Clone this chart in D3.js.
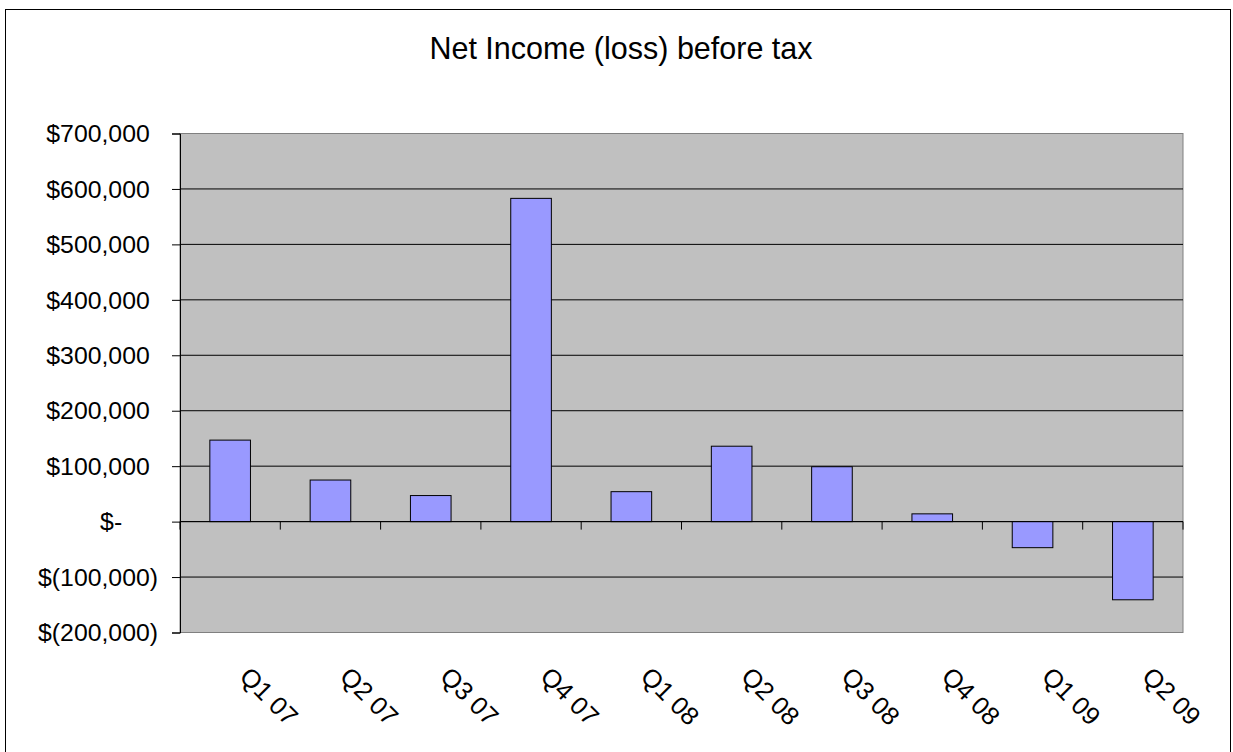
<!DOCTYPE html>
<html>
<head>
<meta charset="utf-8">
<script src="https://cdn.jsdelivr.net/npm/d3@7"></script>
<style>
  html, body { margin: 0; padding: 0; background: #fff; }
  svg { display: block; }
  text { font-family: Arial, "Liberation Sans", sans-serif; fill: #000; }
</style>
</head>
<body>
<svg id="chart" width="1233" height="752"></svg>
<script>
const categories = ["Q1 07","Q2 07","Q3 07","Q4 07","Q1 08","Q2 08","Q3 08","Q4 08","Q1 09","Q2 09"];
const netIncome = [147000, 75000, 47000, 583000, 54000, 136000, 99000, 14000, -47000, -141000];
const yTicks = [-200000, -100000, 0, 100000, 200000, 300000, 400000, 500000, 600000, 700000];
const title = "Net Income (loss) before tax";

const svg = d3.select("#chart");
const plot = { left: 180, right: 1183, top: 133.5, bottom: 632.5 };

// outer chart border
svg.append("rect")
  .attr("x", 5.5).attr("y", 9.5)
  .attr("width", 1225).attr("height", 760)
  .attr("fill", "#fff").attr("stroke", "#000").attr("stroke-width", 1);

// title
svg.append("text")
  .attr("x", 621).attr("y", 59)
  .attr("text-anchor", "middle")
  .attr("font-size", 30.5)
  .text(title);

const x = d3.scaleBand().domain(categories).range([plot.left, plot.right]).padding(0);
const y = d3.scaleLinear().domain([-200000, 700000]).range([plot.bottom, plot.top]);

// plot area background
svg.append("rect")
  .attr("x", plot.left).attr("y", plot.top)
  .attr("width", plot.right - plot.left).attr("height", plot.bottom - plot.top)
  .attr("fill", "#C0C0C0").attr("stroke", "#808080").attr("stroke-width", 1);

// gridlines (not at top/bottom border)
svg.append("g").selectAll("line")
  .data(yTicks.filter(v => v !== -200000 && v !== 700000))
  .join("line")
  .attr("x1", plot.left).attr("x2", plot.right)
  .attr("y1", d => y(d)).attr("y2", d => y(d))
  .attr("stroke", "#000").attr("stroke-width", 1);

// bars
const barFrac = 0.405;
svg.append("g").selectAll("rect")
  .data(categories.map((c, i) => ({ c, v: netIncome[i] })))
  .join("rect")
  .attr("x", d => x(d.c) + x.bandwidth() * (1 - barFrac) / 2)
  .attr("width", x.bandwidth() * barFrac)
  .attr("y", d => Math.min(y(d.v), y(0)))
  .attr("height", d => Math.abs(y(d.v) - y(0)))
  .attr("fill", "#9999FF").attr("stroke", "#000").attr("stroke-width", 1);

// y axis
const yAxis = d3.axisLeft(y).tickValues(yTicks).tickSize(8).tickFormat("");
const yg = svg.append("g").attr("transform", `translate(${plot.left},0)`).call(yAxis);
yg.select(".domain").attr("stroke", "#000");
yg.selectAll(".tick line").attr("stroke", "#000");

const fmt = d3.format(",");
const labG = svg.append("g");
yTicks.forEach(v => {
  const t = labG.append("text")
    .attr("x", 158).attr("y", y(v))
    .attr("dy", "0.35em")
    .attr("text-anchor", "end")
    .attr("font-size", 24.8);
  if (v < 0) {
    t.text("$(" + fmt(-v) + ")");
  } else if (v === 0) {
    t.append("tspan").text("$-");
    t.append("tspan").attr("fill-opacity", 0).text("00)");
  } else {
    t.append("tspan").text("$" + fmt(v));
    t.append("tspan").attr("fill-opacity", 0).text(")");
  }
});

// x axis at zero with ticks at category boundaries
const xg = svg.append("g");
xg.append("line")
  .attr("x1", plot.left).attr("x2", plot.right)
  .attr("y1", y(0)).attr("y2", y(0))
  .attr("stroke", "#000");
const bounds = categories.map(c => x(c)).concat([plot.right]);
xg.selectAll("line.tk").data(bounds).join("line").attr("class", "tk")
  .attr("x1", d => d).attr("x2", d => d)
  .attr("y1", y(0)).attr("y2", y(0) + 8)
  .attr("stroke", "#000");

// rotated category labels
svg.append("g").selectAll("text")
  .data(categories)
  .join("text")
  .attr("transform", d => `translate(${x(d) + x.bandwidth() / 2 + 8},678) rotate(45)`)
  .attr("text-anchor", "start")
  .attr("font-size", 25.5)
  .text(d => d);
</script>
</body>
</html>
